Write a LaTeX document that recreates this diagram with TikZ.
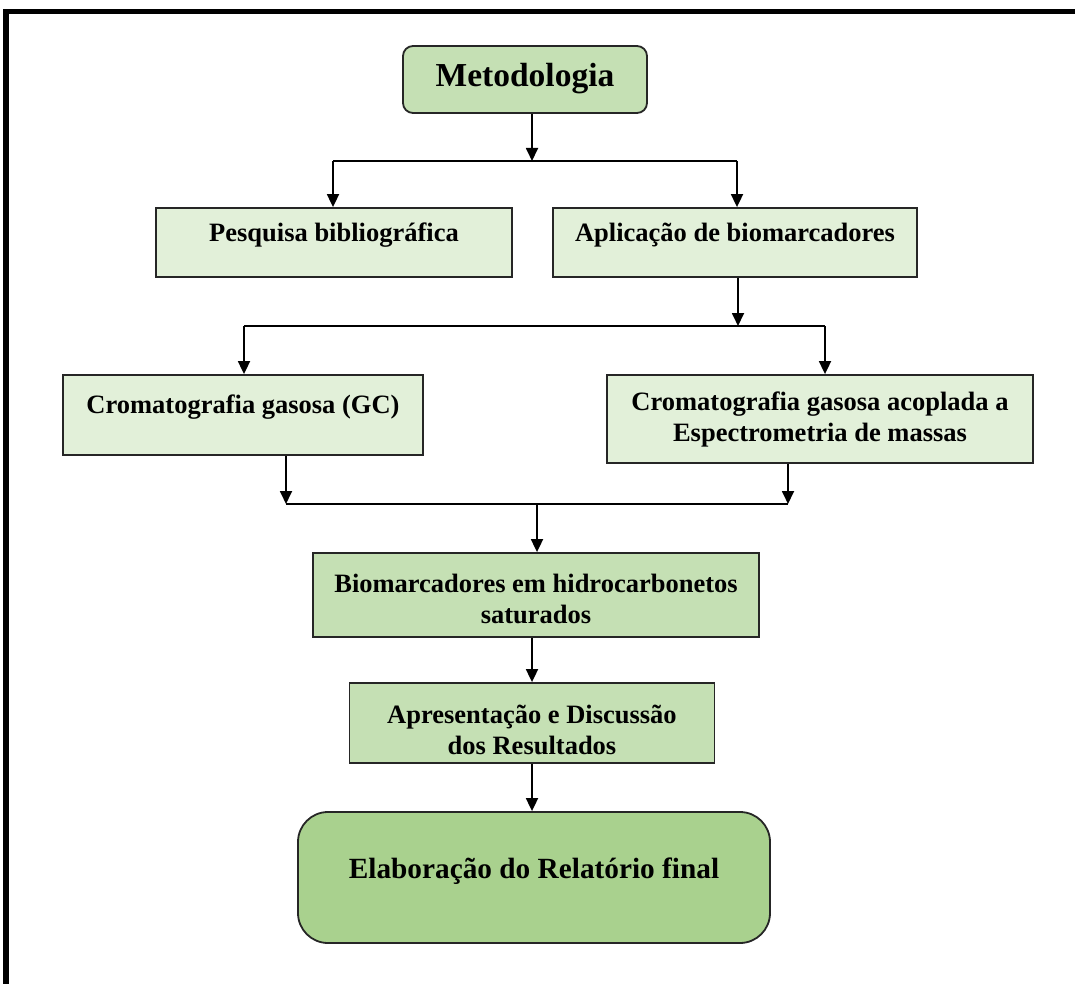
\documentclass[tikz,border=0pt]{standalone}
\usepackage{fontspec}
\setmainfont{Liberation Serif}
\usetikzlibrary{arrows.meta}
\definecolor{verdeclaro}{HTML}{E2F0D9}
\definecolor{verdemedio}{HTML}{C5E0B4}
\definecolor{verdeescuro}{HTML}{A9D18E}
\newcommand{\duaslinhas}[2]{\begin{tabular}[t]{@{}c@{}}#1\\#2\end{tabular}}
\begin{document}
\begin{tikzpicture}[x=1pt, y=-1pt]
    \tikzstyle{caixa} = [draw=black!85, line width=1.8pt, inner sep=0pt, anchor=base, font=\bfseries\fontsize{26.5}{31}\selectfont]
    \tikzstyle{clara} = [caixa, fill=verdeclaro]
    \tikzstyle{media} = [caixa, fill=verdemedio]
    \tikzstyle{linha} = [line width=1.8pt]
    \tikzstyle{seta} = [linha, -{Triangle[width=12pt, length=13pt]}]
    \useasboundingbox (0, 0) rectangle (1075, 984);
    \draw[line width=5.5pt] (6, 1000) -- (6, 11.5) -- (1090, 11.5);
    \node[media, rounded corners=10pt, minimum width=244pt, text height=41pt, text depth=26pt, font=\bfseries\fontsize{33.5}{38}\selectfont] (metodologia) at (525, 87) {Metodologia};
    \node[clara, minimum width=356pt, text height=33pt, text depth=36pt] (pesquisa) at (334, 241) {Pesquisa bibliográfica};
    \node[clara, minimum width=364pt, text height=33pt, text depth=36pt] (aplicacao) at (735, 241) {Aplicação de biomarcadores};
    \node[clara, minimum width=360pt, text height=38pt, text depth=42pt] (cromgc) at (243, 413) {Cromatografia gasosa (GC)};
    \node[clara, minimum width=426pt, text height=35pt, text depth=53pt] (cromms) at (820, 410) {\duaslinhas{Cromatografia gasosa acoplada a}{Espectrometria de massas}};
    \node[media, minimum width=446pt, text height=39pt, text depth=45pt] (biomarc) at (536, 592) {\duaslinhas{Biomarcadores em hidrocarbonetos}{saturados}};
    \node[media, minimum width=365pt, text height=40pt, text depth=40pt] (apresent) at (532, 723) {\duaslinhas{Apresentação e Discussão}{dos Resultados}};
    \node[caixa, fill=verdeescuro, rounded corners=30pt, minimum width=472pt, text height=66pt, text depth=65pt, font=\bfseries\fontsize{29.3}{36}\selectfont] (elaboracao) at (534, 878) {Elaboração do Relatório final};
    \coordinate (t1) at (532, 161);
    \coordinate (t1e) at (333, 161);
    \coordinate (t1d) at (737, 161);
    \coordinate (t2) at (738, 326);
    \coordinate (t2e) at (244, 326);
    \coordinate (t2d) at (825, 326);
    \coordinate (t3) at (537, 504);
    \coordinate (t3e) at (286, 504);
    \coordinate (t3d) at (788, 504);
    \draw[seta] (metodologia.south -| t1) -- (t1);
    \draw[linha] (t1e) -- (t1d);
    \draw[seta] (t1e) -- (t1e |- pesquisa.north);
    \draw[seta] (t1d) -- (t1d |- aplicacao.north);
    \draw[seta] (aplicacao.south -| t2) -- (t2);
    \draw[linha] (t2e) -- (t2d);
    \draw[seta] (t2e) -- (t2e |- cromgc.north);
    \draw[seta] (t2d) -- (t2d |- cromms.north);
    \draw[seta] (cromgc.south -| t3e) -- (t3e);
    \draw[seta] (cromms.south -| t3d) -- (t3d);
    \draw[linha] (t3e) -- (t3d);
    \draw[seta] (t3) -- (t3 |- biomarc.north);
    \draw[seta] (biomarc.south -| apresent.north) -- (apresent.north);
    \draw[seta] (apresent.south) -- (apresent.south |- elaboracao.north);
\end{tikzpicture}
\end{document}
